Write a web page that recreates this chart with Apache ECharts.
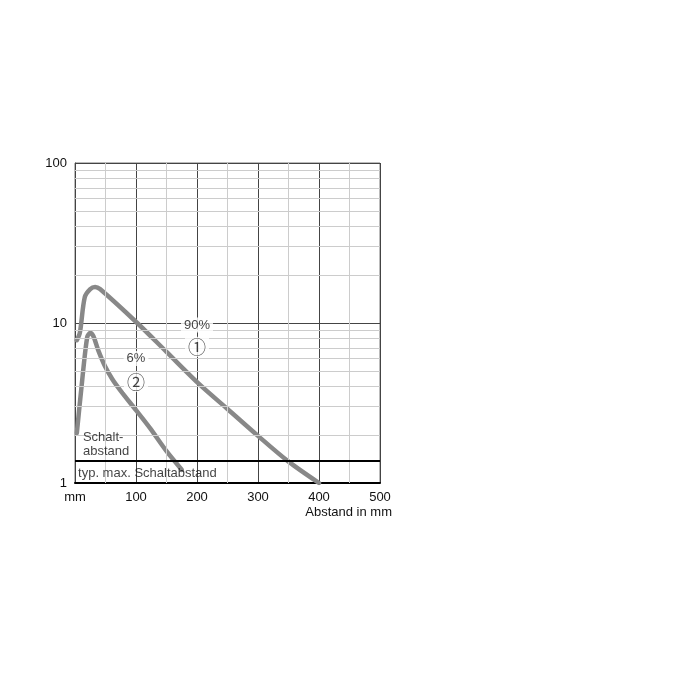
<!DOCTYPE html>
<html lang="de">
<head>
<meta charset="UTF-8">
<title>Schaltabstand</title>
<script src="https://cdn.jsdelivr.net/npm/echarts@6/dist/echarts.min.js"></script>
<style>
  html, body { margin: 0; padding: 0; background: #fff; }
  #chart { width: 680px; height: 680px; }
</style>
</head>
<body>
<div id="chart"></div>
<script>
// Kurve 1 (90 % Remission)
var curve1X = [3, 8, 16, 25, 33, 41, 102, 150, 205, 250, 300, 349, 400];
var curve1Y = [7.8, 8.7, 14.5, 16.3, 16.8, 16.3, 10, 6.6, 4.1, 2.9, 1.97, 1.37, 1.0];

// Kurve 2 (6 % Remission)
var curve2X = [3, 11, 20, 25, 30, 38, 49, 61, 74, 101, 123, 150, 175];
var curve2Y = [2.05, 4.1, 8.17, 8.66, 8.3, 6.77, 5.39, 4.47, 3.81, 2.82, 2.2, 1.58, 1.21];

// typ. max. Schaltabstand
var maxLine = 1.37;

// Gitterlinien
var lightX = [50, 150, 250, 350, 450];
var lightY = [2, 3, 4, 5, 6, 7, 8, 9, 20, 30, 40, 50, 60, 70, 80, 90];

// Beschriftungen im Diagramm
var noteText = ['90%', '{c|①}', '6%', '{c|②}'];
var noteX = [200, 200, 100, 100];
var noteY = [9.7, 7.1, 6.0, 4.28];

var textNotes = ['Schalt-\nabstand', 'typ. max. Schaltabstand'];
var textX = [13, 5];
var textY = [1.73, 1.155];

function pairs(xs, ys) {
    var out = [];
    for (var i = 0; i < xs.length; i++) out.push([xs[i], ys[i]]);
    return out;
}

var gridLines = [];
lightX.forEach(function (v) { gridLines.push({ xAxis: v }); });
lightY.forEach(function (v) { gridLines.push({ yAxis: v }); });

var notes = [];
for (var i = 0; i < noteText.length; i++) {
    notes.push({ value: [noteX[i], noteY[i]], name: noteText[i] });
}
var texts = [];
for (var j = 0; j < textNotes.length; j++) {
    texts.push({ value: [textX[j], textY[j]], name: textNotes[j] });
}

var font = 'Liberation Sans, DejaVu Sans, sans-serif';
var ink = '#111';

var myChart = echarts.init(document.getElementById('chart'));
var option = {
    animation: false,
    grid: {
        left: 75, top: 163, right: 300, bottom: 197,
        show: true, borderColor: '#777', borderWidth: 1, backgroundColor: '#fff'
    },
    xAxis: {
        type: 'value', min: 0, max: 500, interval: 100,
        axisLine: { show: true, lineStyle: { color: '#000', width: 2 } },
        axisTick: { show: false },
        axisLabel: {
            margin: 8, color: ink, fontSize: 13, fontFamily: font,
            formatter: function (v) { return v === 0 ? 'mm' : String(v); }
        },
        splitLine: { show: true, lineStyle: { color: '#444', width: 1 } }
    },
    yAxis: {
        type: 'log', logBase: 10, min: 1, max: 100,
        axisLine: { show: true, lineStyle: { color: '#444', width: 1 } },
        axisTick: { show: false },
        axisLabel: { margin: 8, color: ink, fontSize: 13, fontFamily: font },
        splitLine: { show: true, lineStyle: { color: '#444', width: 1 } }
    },
    graphic: [{
        type: 'text', right: 288, top: 506,
        style: { text: 'Abstand in mm', fill: ink, font: '13px ' + font }
    }],
    series: [{
        type: 'line', data: [], silent: true, z: 1,
        markLine: {
            silent: true, symbol: 'none', label: { show: false },
            lineStyle: { color: '#ccc', width: 1, type: 'solid' },
            data: gridLines
        }
    }, {
        type: 'line', data: [], silent: true, z: 3,
        markLine: {
            silent: true, symbol: 'none', label: { show: false },
            lineStyle: { color: '#000', width: 2, type: 'solid' },
            data: [{ yAxis: maxLine }]
        }
    }, {
        name: '90%', type: 'line', data: pairs(curve1X, curve1Y),
        smooth: 0.3, showSymbol: false, z: 4,
        lineStyle: { color: '#888', width: 4.5, cap: 'round' }
    }, {
        name: '6%', type: 'line', data: pairs(curve2X, curve2Y),
        smooth: 0.3, showSymbol: false, z: 4,
        lineStyle: { color: '#888', width: 4.5, cap: 'round' }
    }, {
        type: 'scatter', data: notes, symbolSize: 0, z: 6, silent: true,
        label: {
            show: true, position: 'inside', formatter: '{b}',
            color: ink, fontSize: 13, fontFamily: font,
            backgroundColor: '#fff', padding: [1, 3],
            rich: {
                c: { fontSize: 18, fontFamily: 'Noto Sans CJK SC', color: ink, lineHeight: 18 }
            }
        }
    }, {
        type: 'scatter', data: texts, symbolSize: 0, z: 6, silent: true,
        label: {
            show: true, position: 'right', distance: 0, formatter: '{b}',
            color: ink, fontSize: 13, fontFamily: font, lineHeight: 14
        }
    }]
};
myChart.setOption(option);
</script>
</body>
</html>
